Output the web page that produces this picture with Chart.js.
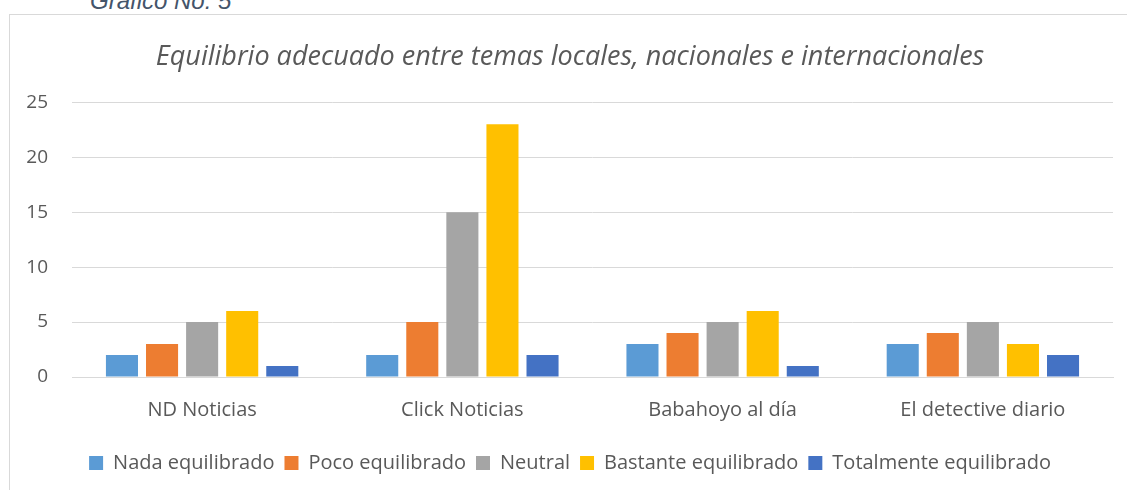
<!DOCTYPE html>
<html>
<head>
<meta charset="utf-8">
<script src="https://cdn.jsdelivr.net/npm/chart.js@4"></script>
<style>
  html, body { margin: 0; padding: 0; background: #fff; overflow: hidden; }
  #caption {
    position: absolute; left: 90px; top: -13px; line-height: 1;
    font: italic 24px "Liberation Sans", Arial, sans-serif; color: #44546a;
  }
  #box {
    position: absolute; left: 9px; top: 14px; width: 1130px; height: 490px;
    border: 1px solid #d9d9d9; box-sizing: border-box;
  }
  #wrap { position: absolute; left: 0; top: 0; width: 1117px; height: 475px; }
</style>
</head>
<body>
<div id="caption">Gráfico No. 5</div>
<div id="box"><div id="wrap"><canvas id="chart"></canvas></div></div>
<script>
// categories and series
const categories = ['ND Noticias', 'Click Noticias', 'Babahoyo al día', 'El detective diario'];
const seriesNames = ['Nada equilibrado', 'Poco equilibrado', 'Neutral', 'Bastante equilibrado', 'Totalmente equilibrado'];
const nada = [2, 2, 3, 3];
const poco = [3, 5, 4, 4];
const neutral = [5, 15, 5, 5];
const bastante = [6, 23, 6, 3];
const totalmente = [1, 2, 1, 2];
const yTicks = [0, 5, 10, 15, 20, 25];

const colors = ['#5b9bd5', '#ed7d31', '#a5a5a5', '#ffc000', '#4472c4'];
const values = [nada, poco, neutral, bastante, totalmente];
const fontFamily = '"Open Sans", Lato, sans-serif';

const datasets = seriesNames.map(function(name, i) {
  return {
    label: name,
    data: values[i],
    backgroundColor: colors[i],
    borderWidth: 0,
    barPercentage: 0.8,
    categoryPercentage: 0.77
  };
});

new Chart(document.getElementById('chart'), {
  type: 'bar',
  data: { labels: categories, datasets: datasets },
  options: {
    responsive: true,
    maintainAspectRatio: false,
    animation: false,
    layout: { autoPadding: false, padding: { left: 17, right: 14, top: 26, bottom: 7 } },
    plugins: {
      title: {
        display: true,
        text: 'Equilibrio adecuado entre temas locales, nacionales e internacionales',
        color: '#595959',
        font: { family: fontFamily, size: 27, style: 'italic', weight: 'normal' },
        padding: { top: 0, bottom: 29 }
      },
      legend: {
        position: 'bottom',
        labels: {
          color: '#595959',
          font: { family: fontFamily, size: 20 },
          boxWidth: 14,
          boxHeight: 14,
          padding: 10
        }
      },
      tooltip: { enabled: false }
    },
    scales: {
      x: {
        grid: { display: false, drawTicks: false },
        border: { color: '#d9d9d9', width: 1 },
        ticks: { color: '#595959', font: { family: fontFamily, size: 20 }, padding: 21 },
        afterFit: function(axis) {
          axis.paddingLeft = 0;
          axis.paddingRight = 0;
        }
      },
      y: {
        min: 0,
        max: 25,
        afterBuildTicks: function(axis) {
          axis.ticks = yTicks.map(function(v) { return { value: v }; });
        },
        afterFit: function(axis) {
          axis.width = 45;
        },
        grid: { color: '#d9d9d9', lineWidth: 1, drawTicks: false },
        border: { display: false },
        ticks: { color: '#595959', font: { family: fontFamily, size: 19 }, padding: 24 }
      }
    }
  }
});
</script>
</body>
</html>
